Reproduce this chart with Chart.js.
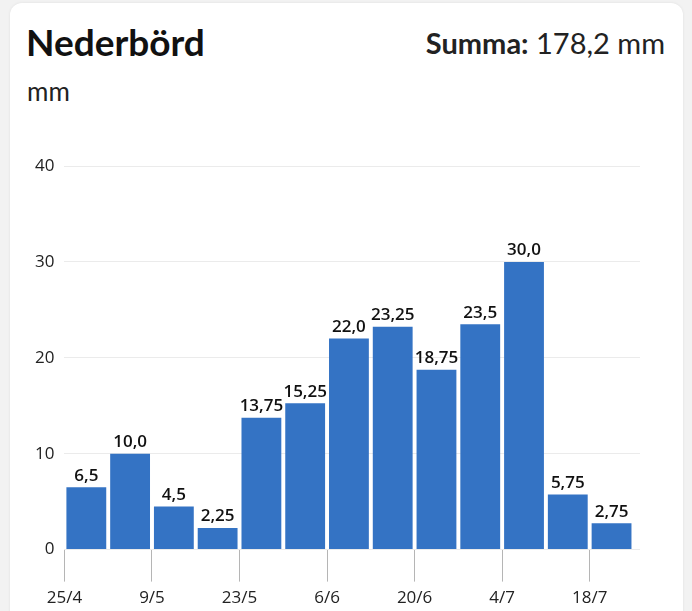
<!DOCTYPE html>
<html lang="sv">
<head>
<meta charset="utf-8">
<script src="https://cdn.jsdelivr.net/npm/chart.js@4"></script>
<style>
  html, body { margin: 0; padding: 0; background: #f2f2f2; width: 692px; height: 611px; overflow: hidden; }
  .kort { position: absolute; left: 10px; top: 3px; width: 673px; height: 640px; background: #fff;
          border-radius: 12px; box-shadow: 0 0 3px rgba(0,0,0,0.08); font-family: Lato, sans-serif; color: #111; }
  .titel { position: absolute; left: 16px; top: 16px; font-size: 37px; font-weight: 700; }
  .enhet { position: absolute; left: 17px; top: 72px; font-size: 26px; color: #222; }
  .summa { position: absolute; right: 18px; top: 22px; font-size: 29px; color: #222; }
  .summa b { font-weight: 700; }
  #graf { position: absolute; left: 0; top: 127px; }
</style>
</head>
<body>
<div class="kort">
  <div class="titel">Nederbörd</div>
  <div class="enhet">mm</div>
  <div class="summa"><b>Summa:</b> 178,2 mm</div>
  <canvas id="graf" width="673" height="484"></canvas>
</div>
<script>
// Veckor (start på veckan) och nederbörd per vecka
const veckor = ['25/4', '2/5', '9/5', '16/5', '23/5', '30/5', '6/6', '13/6', '20/6', '27/6', '4/7', '11/7', '18/7'];
const nederbord = [6.5, 10.0, 4.5, 2.25, 13.75, 15.25, 22.0, 23.25, 18.75, 23.5, 30.0, 5.75, 2.75];
const yTicks = [0, 10, 20, 30, 40];

const blå = '#3473c4';

/** Formaterar ett värde med decimalkomma */
const formatera = function(v) {
  const s = Number.isInteger(v * 10) ? v.toFixed(1) : v.toFixed(2);
  return s.replace('.', ',');
};

/** Etiketter ovanför staplarna (ingen datalabels-plugin tillgänglig) */
const stapelEtiketter = {
  id: 'stapelEtiketter',
  afterDatasetsDraw(chart) {
    const ctx = chart.ctx;
    const meta = chart.getDatasetMeta(0);
    ctx.save();
    ctx.font = '600 17px "Open Sans", sans-serif';
    ctx.fillStyle = '#111';
    ctx.textAlign = 'center';
    ctx.textBaseline = 'bottom';
    meta.data.forEach((bar, i) => {
      ctx.fillText(formatera(nederbord[i]), bar.x, bar.y - 3);
    });
    ctx.restore();
  }
};

const punkter = nederbord.map((v, i) => ({ x: i + 0.5, y: v }));

new Chart(document.getElementById('graf'), {
  type: 'bar',
  data: {
    datasets: [{
      data: punkter,
      backgroundColor: blå,
      borderWidth: 0,
      categoryPercentage: 1,
      barPercentage: 0.91
    }]
  },
  options: {
    responsive: false,
    animation: false,
    layout: { padding: { left: 15, right: 43, top: 36, bottom: 0 } },
    plugins: { legend: { display: false }, tooltip: { enabled: false } },
    scales: {
      x: {
        type: 'linear',
        offset: false,
        min: 0,
        max: 13.15,
        afterBuildTicks: (scale) => {
          scale.ticks = [0, 2, 4, 6, 8, 10, 12].map(v => ({ value: v }));
        },
        ticks: {
          callback: (v) => veckor[v],
          font: { family: 'Open Sans', size: 17 },
          color: '#222',
          padding: 6,
          maxRotation: 0
        },
        grid: { offset: false, drawOnChartArea: false, drawTicks: true, tickLength: 32, color: '#b5b5b5' },
        border: { display: false }
      },
      y: {
        min: 0,
        max: 40,
        afterBuildTicks: (scale) => {
          scale.ticks = yTicks.map(v => ({ value: v }));
        },
        ticks: {
          font: { family: 'Open Sans', size: 17 },
          color: '#222',
          padding: 10
        },
        grid: { color: '#ebebeb', drawTicks: false },
        border: { display: false }
      }
    }
  },
  plugins: [stapelEtiketter]
});
</script>
</body>
</html>
